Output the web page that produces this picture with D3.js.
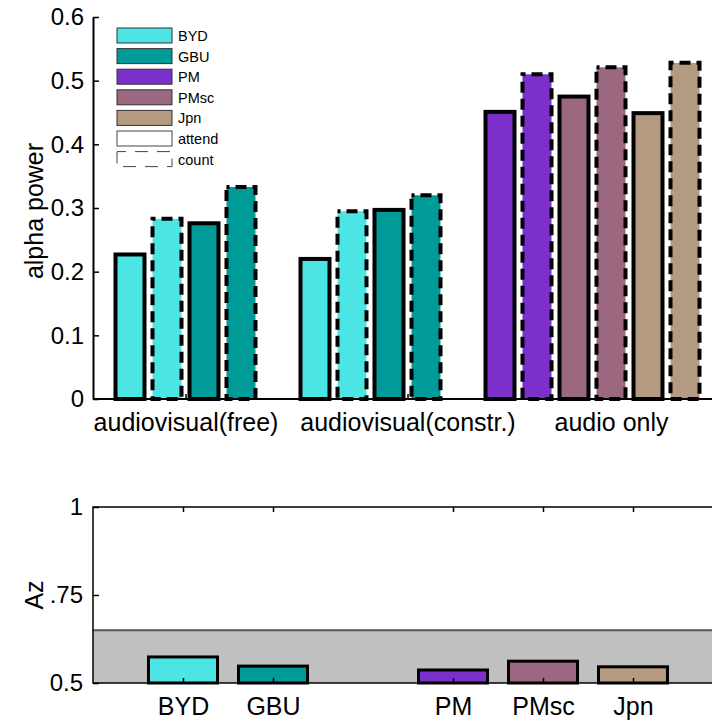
<!DOCTYPE html>
<html>
<head>
<meta charset="utf-8">
<script src="https://cdn.jsdelivr.net/npm/d3@7"></script>
<style>
  body { margin: 0; background: #fff; }
  svg { display: block; font-family: "Liberation Sans", Arial, sans-serif; }
</style>
</head>
<body>
<div id="chart"></div>
<script>
// groups and bars
const groups = ['BYD', 'GBU', 'PM', 'PMsc', 'Jpn'];
const groupColors = ['#4de4e4', '#009a98', '#7b30cc', '#9b6880', '#b49a80'];
const conditions = ['attend', 'count'];

// top panel: slot index on the x scale, group, condition, alpha power
const alphaSlots = [0, 1, 2, 3, 5, 6, 7, 8, 10, 11, 12, 13, 14, 15];
const alphaGroups = ['BYD', 'BYD', 'GBU', 'GBU', 'BYD', 'BYD', 'GBU', 'GBU', 'PM', 'PM', 'PMsc', 'PMsc', 'Jpn', 'Jpn'];
const alphaConds = ['attend', 'count', 'attend', 'count', 'attend', 'count', 'attend', 'count', 'attend', 'count', 'attend', 'count', 'attend', 'count'];
const alphaValues = [0.227, 0.283, 0.276, 0.333, 0.220, 0.295, 0.297, 0.320, 0.451, 0.510, 0.475, 0.521, 0.449, 0.528];

const conditionLabels = ['audiovisual(free)', 'audiovisual(constr.)', 'audio only'];
const conditionPos = [1.5, 7.5, 13];
const alphaTicks = [0, 0.1, 0.2, 0.3, 0.4, 0.5, 0.6];

// bottom panel: Az per group
const azSlots = [0, 1, 3, 4, 5];
const azValues = [0.574, 0.548, 0.537, 0.562, 0.546];
const azTicks = [0.5, 0.75, 1];
const azTickLabels = ['0.5', '.75', '1'];
const chanceLevel = 0.65;

const width = 712, height = 721;
const color = d3.scaleOrdinal().domain(groups).range(groupColors);

const svg = d3.select('#chart').append('svg')
  .attr('width', width)
  .attr('height', height);

// ---------- top panel ----------
const x1 = d3.scaleLinear().domain([-1, 16]).range([93, 722]);
const y1 = d3.scaleLinear().domain([0, 0.6]).range([399, 17]);
const barW = 29;

const topPanel = svg.append('g');

// x axis (ticks pointing up, under the bars)
const xAxis1 = topPanel.append('g')
  .attr('transform', `translate(0,${y1(0)})`)
  .call(d3.axisBottom(x1).tickValues(conditionPos)
    .tickFormat((d, i) => conditionLabels[i])
    .tickSizeInner(-5).tickSizeOuter(0).tickPadding(14));

const alphaData = alphaValues.map((v, i) => ({
  slot: alphaSlots[i], group: alphaGroups[i], cond: alphaConds[i], value: v
}));

topPanel.append('g').selectAll('rect')
  .data(alphaData)
  .join('rect')
  .attr('x', d => x1(d.slot) - barW / 2)
  .attr('y', d => y1(d.value))
  .attr('width', barW)
  .attr('height', d => y1(0) - y1(d.value))
  .attr('fill', d => color(d.group))
  .attr('stroke', '#000')
  .attr('stroke-width', 4)
  .attr('stroke-dasharray', d => d.cond === 'count' ? '11,6' : null)
  .attr('stroke-dashoffset', 8);

// baseline over the bars' bottoms
topPanel.append('line')
  .attr('x1', x1(-1)).attr('x2', width)
  .attr('y1', y1(0)).attr('y2', y1(0))
  .attr('stroke', '#000').attr('stroke-width', 2);

const yAxis1 = topPanel.append('g')
  .attr('transform', `translate(${x1(-1)},0)`)
  .call(d3.axisLeft(y1).tickValues(alphaTicks)
    .tickFormat(d => d === 0 ? '0' : d3.format('.1f')(d))
    .tickSizeInner(-6).tickSizeOuter(0).tickPadding(9));

[xAxis1, yAxis1].forEach(a => {
  a.select('.domain').attr('stroke', '#000').attr('stroke-width', 2);
  a.selectAll('.tick line').attr('stroke', '#000').attr('stroke-width', 1.5);
  a.selectAll('.tick text').attr('fill', '#000').attr('font-size', 24)
    .attr('font-family', '"Liberation Sans", Arial, sans-serif');
});
xAxis1.selectAll('.tick text').attr('font-size', 25);
xAxis1.select('.domain').remove();

topPanel.append('text')
  .attr('transform', `translate(43,${(y1(0) + y1(0.6)) / 2 + 3}) rotate(-90)`)
  .attr('text-anchor', 'middle')
  .attr('font-size', 25)
  .text('alpha power');

// legend
const legendItems = groups.map(g => ({ label: g, fill: color(g), dash: null, stroke: '#333' }))
  .concat([
    { label: conditions[0], fill: '#fff', dash: null, stroke: '#444' },
    { label: conditions[1], fill: '#fff', dash: '13,9', stroke: '#444' }
  ]);

const legend = topPanel.append('g').attr('transform', 'translate(117,28)');
const li = legend.selectAll('g')
  .data(legendItems)
  .join('g')
  .attr('transform', (d, i) => `translate(0,${i * 20.6})`);
li.append('rect')
  .attr('width', 55).attr('height', 15)
  .attr('fill', d => d.fill)
  .attr('stroke', d => d.stroke)
  .attr('stroke-width', 1)
  .attr('stroke-dasharray', d => d.dash)
  .attr('stroke-dashoffset', 26);
li.append('text')
  .attr('x', 61).attr('y', 8)
  .attr('dy', '0.35em')
  .attr('font-size', 14.5)
  .text(d => d.label);

// ---------- bottom panel ----------
const x2 = d3.scaleLinear().domain([-1, 6]).range([93, 723]);
const y2 = d3.scaleLinear().domain([0.5, 1]).range([683, 507]);
const barW2 = 69;

const botPanel = svg.append('g');

// chance band
botPanel.append('rect')
  .attr('x', x2(-1)).attr('width', x2(6) - x2(-1))
  .attr('y', y2(chanceLevel)).attr('height', y2(0.5) - y2(chanceLevel))
  .attr('fill', '#c0c0c0');
botPanel.append('line')
  .attr('x1', x2(-1)).attr('x2', x2(6))
  .attr('y1', y2(chanceLevel)).attr('y2', y2(chanceLevel))
  .attr('stroke', '#555').attr('stroke-width', 2);

const azData = azValues.map((v, i) => ({ slot: azSlots[i], group: groups[i], value: v }));
botPanel.append('g').selectAll('rect')
  .data(azData)
  .join('rect')
  .attr('x', d => x2(d.slot) - barW2 / 2)
  .attr('y', d => y2(d.value))
  .attr('width', barW2)
  .attr('height', d => y2(0.5) - y2(d.value))
  .attr('fill', d => color(d.group))
  .attr('stroke', '#000')
  .attr('stroke-width', 3);

// frame
botPanel.append('rect')
  .attr('x', x2(-1)).attr('y', y2(1))
  .attr('width', x2(6) - x2(-1)).attr('height', y2(0.5) - y2(1))
  .attr('fill', 'none').attr('stroke', '#000').attr('stroke-width', 1.5);

const xAxis2 = botPanel.append('g')
  .attr('transform', `translate(0,${y2(0.5)})`)
  .call(d3.axisBottom(x2).tickValues(azSlots)
    .tickFormat((d, i) => groups[i])
    .tickSizeInner(-5).tickSizeOuter(0).tickPadding(14));
const xAxis2Top = botPanel.append('g')
  .attr('transform', `translate(0,${y2(1)})`)
  .call(d3.axisTop(x2).tickValues(azSlots)
    .tickFormat('')
    .tickSizeInner(-5).tickSizeOuter(0));
const yAxis2 = botPanel.append('g')
  .attr('transform', `translate(${x2(-1)},0)`)
  .call(d3.axisLeft(y2).tickValues(azTicks)
    .tickFormat((d, i) => azTickLabels[i])
    .tickSizeInner(-6).tickSizeOuter(0).tickPadding(10));

[xAxis2, xAxis2Top, yAxis2].forEach(a => {
  a.select('.domain').remove();
  a.selectAll('.tick line').attr('stroke', '#000').attr('stroke-width', 1.5);
  a.selectAll('.tick text').attr('fill', '#000').attr('font-size', 24)
    .attr('font-family', '"Liberation Sans", Arial, sans-serif');
});
xAxis2.selectAll('.tick text').attr('font-size', 25);

botPanel.append('text')
  .attr('transform', `translate(43,${y2(0.75)}) rotate(-90)`)
  .attr('text-anchor', 'middle')
  .attr('font-size', 25)
  .text('Az');
</script>
</body>
</html>
